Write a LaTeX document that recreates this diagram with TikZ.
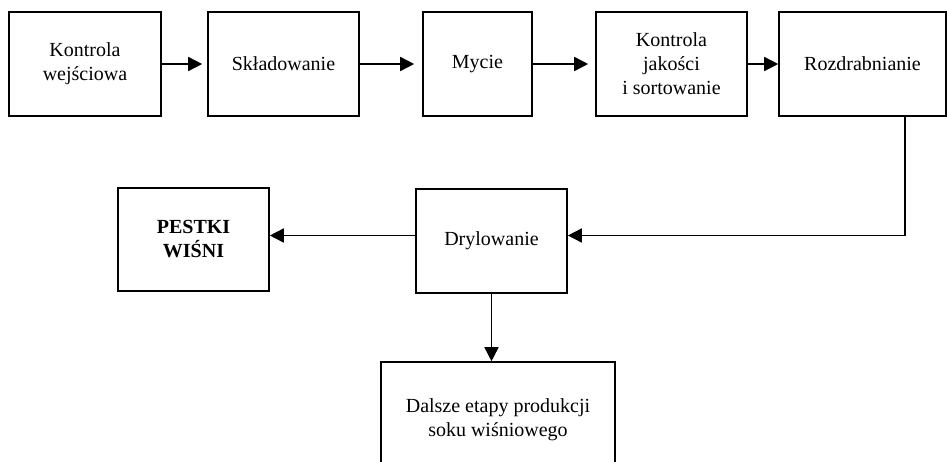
\documentclass[tikz,border=0pt]{standalone}
\usepackage{fontspec}
\setmainfont{Liberation Serif}
\usetikzlibrary{arrows.meta}
\begin{document}
\begin{tikzpicture}[x=1pt,y=-1pt,
  box/.style={draw,line width=1.6pt,rectangle,inner sep=0pt,align=center,
    font=\fontsize{20pt}{24pt}\selectfont},
  arr/.style={line width=1.6pt,-{Triangle[length=14pt,width=14pt]}}]
\clip (0,0) rectangle (947,461);
\fill[white] (0,0) rectangle (947,461);
\node[box,minimum width=152pt,minimum height=104pt] (A) at (85,64) {Kontrola\\wejściowa};
\node[box,minimum width=151pt,minimum height=104pt] (B) at (283.5,64) {Składowanie};
\node[box,minimum width=109pt,minimum height=104pt] (C) at (477.5,64) {Mycie};
\node[box,minimum width=151pt,minimum height=104pt] (D) at (671.5,64) {Kontrola\\jakości\\i sortowanie};
\node[box,minimum width=167pt,minimum height=104pt] (E) at (862.5,64) {Rozdrabnianie};
\node[box,minimum width=151pt,minimum height=103pt] (F) at (193.5,239.5) {\bfseries PESTKI\\\bfseries WIŚNI};
\node[box,minimum width=151pt,minimum height=104pt] (G) at (491.5,241) {Drylowanie};
\node[box,minimum width=234pt,minimum height=116pt] (H) at (498,420) {\raisebox{9pt}{\begin{tabular}{@{}c@{}}Dalsze etapy produkcji\\soku wiśniowego\end{tabular}}};
\coordinate (c) at (905,235.5);
\draw[arr,shorten >=5pt] (A.east) -- (B.west);
\draw[arr,shorten >=8pt] (B.east) -- (C.west);
\draw[arr,shorten >=7pt] (C.east) -- (D.west);
\draw[arr] (D.east) -- (E.west);
\draw[arr] (E.south -| c) -- (c) -- (G.east |- c);
\draw[arr] (G.west |- c) -- (F.east |- c);
\draw[arr] (G.south) -- (G.south |- H.north);
\end{tikzpicture}
\end{document}
